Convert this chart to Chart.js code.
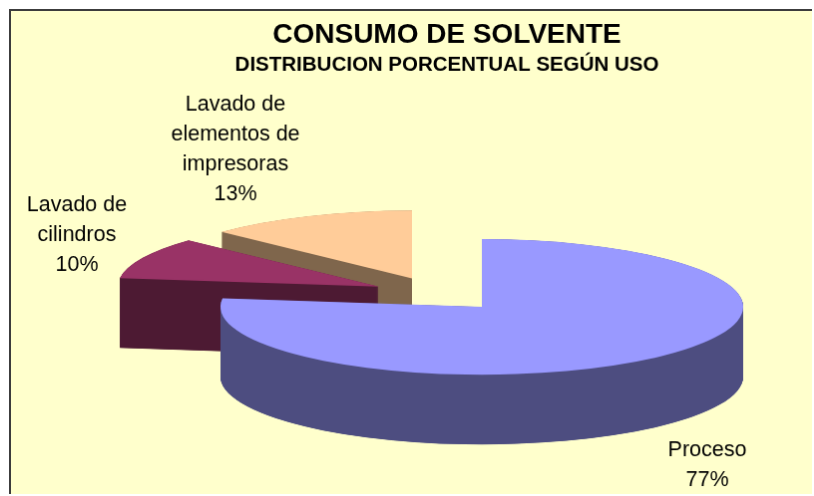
<!DOCTYPE html>
<html>
<head>
<meta charset="utf-8">
<script src="https://cdn.jsdelivr.net/npm/chart.js@4/dist/chart.umd.js"></script>
<style>
  html, body { margin: 0; background: #fff; overflow: hidden; }
  #chart {
    position: absolute; left: 9px; top: 9px;
    border-left: 2px solid #3c3c3c; border-top: 2px solid #3c3c3c;
    background: #ffffcc;
  }
</style>
</head>
<body>
<canvas id="chart" width="803" height="485"></canvas>
<script>
const categories = [['Proceso'], ['Lavado de', 'cilindros'], ['Lavado de', 'elementos de', 'impresoras']];
const values = [77, 10, 13];
const topColors = ['#9999ff', '#993366', '#ffcc99'];
const sideColors = ['#4d4d80', '#4d1a33', '#7f664c'];

// fake 3D: squash the pie and stack copies of each slice downwards
const tilt = 0.26;
const depth = 70;
const explode = [67, 65, 65];
const center = { x: 428, y: 284 };
// centre of each label block, in canvas pixels
const labelSpots = [{ x: 698, y: 456 }, { x: 66, y: 225 }, { x: 225, y: 139 }];

function drawSlice(ctx, arc, i, shiftY, color) {
  const mid = (arc.startAngle + arc.endAngle) / 2;
  const saved = arc.options;
  arc.options = Object.assign({}, saved, { backgroundColor: color });
  ctx.save();
  // whole pixels keep the straight slice edges from fringing
  ctx.translate(Math.round(center.x + Math.cos(mid) * explode[i]), center.y + shiftY + Math.sin(mid) * explode[i] * tilt);
  ctx.scale(1, tilt);
  ctx.translate(-arc.x, -arc.y);
  arc.draw(ctx);
  ctx.restore();
  arc.options = saved;
}

// stack on a scratch canvas and recolour at the end: blending the
// layers straight onto the chart leaves rounding stripes in the wall
function drawWall(chart, arc, i) {
  const scratch = document.createElement('canvas');
  scratch.width = chart.width;
  scratch.height = chart.height;
  const sctx = scratch.getContext('2d');
  for (let d = depth; d > 0; d -= 0.25) drawSlice(sctx, arc, i, d, '#000');
  sctx.globalCompositeOperation = 'source-in';
  sctx.fillStyle = sideColors[i];
  sctx.fillRect(0, 0, scratch.width, scratch.height);
  chart.ctx.drawImage(scratch, 0, 0);
}

const pie3d = {
  id: 'pie3d',
  beforeDatasetDraw(chart, args) {
    const arcs = args.meta.data;
    for (let i = arcs.length - 1; i >= 0; i--) {
      drawWall(chart, arcs[i], i);
      drawSlice(chart.ctx, arcs[i], i, 0, topColors[i]);
    }
    return false;
  },
  afterDatasetsDraw(chart) {
    const ctx = chart.ctx;
    const lineHeight = 30;
    ctx.save();
    ctx.fillStyle = '#000';
    ctx.font = '21.5px "Liberation Sans"';
    ctx.textAlign = 'center';
    ctx.textBaseline = 'middle';
    categories.forEach((lines, i) => {
      const all = lines.concat(values[i] + '%');
      const top = labelSpots[i].y - (all.length - 1) * lineHeight / 2;
      all.forEach((txt, n) => ctx.fillText(txt, labelSpots[i].x, top + n * lineHeight));
    });
    ctx.restore();
  }
};

new Chart(document.getElementById('chart'), {
  type: 'pie',
  data: {
    labels: categories,
    datasets: [{
      data: values,
      backgroundColor: topColors,
      borderWidth: 0,
      radius: 262
    }]
  },
  options: {
    responsive: false,
    animation: false,
    layout: { padding: { left: 71 } },
    plugins: {
      legend: { display: false },
      tooltip: { enabled: false },
      title: {
        display: true,
        text: 'CONSUMO DE SOLVENTE',
        color: '#000',
        font: { family: '"Liberation Sans"', size: 28, weight: 'bold' },
        padding: { top: 7, bottom: 0 }
      },
      subtitle: {
        display: true,
        text: 'DISTRIBUCION PORCENTUAL SEGÚN USO',
        color: '#000',
        font: { family: '"Liberation Sans"', size: 20.5, weight: 'bold' },
        padding: { top: 1, bottom: 0 }
      }
    }
  },
  plugins: [pie3d]
});
</script>
</body>
</html>
